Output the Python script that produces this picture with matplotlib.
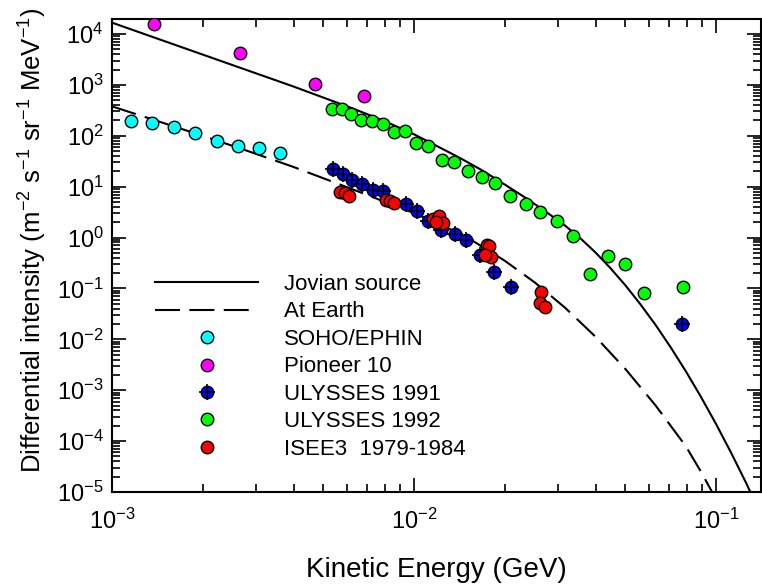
import matplotlib
matplotlib.use("Agg")
import matplotlib.pyplot as plt
from matplotlib.lines import Line2D
from matplotlib.legend_handler import HandlerTuple
from matplotlib.ticker import LogLocator, NullFormatter

# model curves
jov_x = [1.0e-3, 1.995e-3, 3.98e-3, 6.31e-3, 7.943e-3, 1.0e-2, 1.413e-2, 1.679e-2, 2.0e-2,
         2.371e-2, 2.818e-2, 3.162e-2, 3.548e-2, 3.981e-2, 4.467e-2, 5.012e-2, 5.623e-2,
         6.310e-2, 7.079e-2, 7.943e-2, 8.913e-2, 0.1, 0.1122, 0.1259, 0.1318]
jov_y = [1.67e4, 3945, 933, 339, 197, 107, 37.2, 21.0, 10.96,
         5.75, 2.82, 1.72, 0.977, 0.515, 0.252, 0.115, 0.0485,
         0.0191, 6.95e-3, 2.36e-3, 7.41e-4, 2.17e-4, 5.89e-5, 1.49e-5, 8.3e-6]

earth_x = [1.0e-3, 1.413e-3, 1.995e-3, 2.818e-3, 3.981e-3, 6.31e-3, 7.943e-3, 1.0e-2,
           1.259e-2, 1.585e-2, 1.995e-2, 2.512e-2, 3.162e-2, 3.981e-2, 5.012e-2,
           6.31e-2, 7.943e-2, 8.913e-2, 9.772e-2]
earth_y = [378, 195, 100, 50.1, 24.5, 8.71, 5.13, 3.02,
           1.676, 0.822, 0.352, 0.131, 0.0419, 0.01138, 2.61e-3,
           5.0e-4, 7.93e-5, 2.51e-5, 9.3e-6]

# measurements
soho_x = [1.16e-3, 1.36e-3, 1.60e-3, 1.89e-3, 2.22e-3, 2.61e-3, 3.07e-3, 3.61e-3]
soho_y = [191, 180, 148, 112, 78, 62, 58, 45]

pio_x = [1.38e-3, 2.65e-3, 4.70e-3, 6.83e-3]
pio_y = [1.55e4, 4190, 1047, 608]

u91_x = [5.41e-3, 5.82e-3, 6.25e-3, 6.71e-3, 7.33e-3, 7.90e-3, 9.41e-3, 1.026e-2,
         1.113e-2, 1.231e-2, 1.367e-2, 1.487e-2, 1.648e-2, 1.834e-2, 2.095e-2, 7.74e-2]
u91_y = [22.5, 18.0, 13.7, 11.2, 8.6, 8.2, 4.6, 3.34,
         2.12, 1.40, 1.20, 0.91, 0.444, 0.211, 0.109, 0.0197]

u92_x = [5.34e-3, 5.76e-3, 6.17e-3, 6.68e-3, 7.24e-3, 7.88e-3, 8.59e-3, 9.36e-3,
         1.015e-2, 1.11e-2, 1.235e-2, 1.357e-2, 1.506e-2, 1.676e-2, 1.855e-2, 2.084e-2,
         2.344e-2, 2.614e-2, 2.98e-2, 3.37e-2, 3.836e-2, 4.39e-2, 5.01e-2, 5.79e-2, 7.78e-2]
u92_y = [338, 333, 270, 200, 191, 170, 118, 124,
         72, 62, 34, 30, 20, 15.5, 11.8, 6.7,
         4.6, 3.2, 2.1, 1.06, 0.188, 0.43, 0.296, 0.082, 0.108]

isee_x = [5.67e-3, 5.89e-3, 6.08e-3, 8.05e-3, 8.33e-3, 8.60e-3, 1.152e-2, 1.208e-2,
          1.245e-2, 1.186e-2, 1.745e-2, 1.778e-2, 1.792e-2, 1.712e-2, 2.624e-2, 2.614e-2, 2.72e-2]
isee_y = [7.9, 7.5, 6.6, 5.4, 5.3, 4.7, 2.3, 2.6,
          1.9, 2.0, 0.73, 0.675, 0.424, 0.444, 0.0835, 0.0515, 0.0438]

labels = ["Jovian source", "At Earth", "SOHO/EPHIN", "Pioneer 10",
          "ULYSSES 1991", "ULYSSES 1992", "ISEE3  1979-1984"]

plt.rcParams['font.family'] = 'Liberation Sans'
plt.rcParams['mathtext.fontset'] = 'custom'
plt.rcParams['mathtext.rm'] = 'Liberation Sans'
plt.rcParams['mathtext.it'] = 'Liberation Sans:italic'
plt.rcParams['mathtext.bf'] = 'Liberation Sans:bold'

fig = plt.figure(figsize=(7.62, 5.87), dpi=100)
ax = fig.add_axes([112/762, 1-492/587, (761-112)/762, (492-19)/587])

dash = (12, 4.5)
ax.plot(jov_x, jov_y, color='black', lw=1.5, zorder=2)
ax.plot(earth_x, earth_y, color='black', lw=1.5, dashes=dash, zorder=2)

kw = dict(marker='o', ls='none', ms=9, mec='black', mew=1)
ax.plot(soho_x, soho_y, mfc='#00FFFF', zorder=3, **kw)
ax.plot(pio_x, pio_y, mfc='#FF00FF', zorder=3, **kw)
ax.plot(u92_x, u92_y, mfc='#00FF00', zorder=3, **kw)
ax.plot(u91_x, u91_y, mfc='#0000FF', zorder=3, **kw)
ax.plot(u91_x, u91_y, marker='+', ls='none', ms=11, mew=1.2, color='black', zorder=3.5)
ax.plot(isee_x, isee_y, mfc='#FF0000', zorder=4, **kw)

ax.set_xscale('log')
ax.set_yscale('log')
ax.set_xlim(1e-3, 0.1409)
ax.set_ylim(1e-5, 1.97e4)

ax.xaxis.set_major_locator(LogLocator(base=10, numticks=20))
ax.yaxis.set_major_locator(LogLocator(base=10, numticks=20))
ax.xaxis.set_minor_locator(LogLocator(base=10, subs=range(2, 10), numticks=40))
ax.yaxis.set_minor_locator(LogLocator(base=10, subs=range(2, 10), numticks=40))
ax.xaxis.set_minor_formatter(NullFormatter())
ax.yaxis.set_minor_formatter(NullFormatter())

ax.tick_params(which='both', direction='in', top=True, right=True, width=1.2, labelsize=17)
ax.tick_params(which='major', length=10, pad=6)
ax.tick_params(which='minor', length=6)
ax.tick_params(axis='x', which='major', pad=12)
for s in ax.spines.values():
    s.set_linewidth(1.5)

ax.set_xlabel('Kinetic Energy (GeV)', fontsize=20, labelpad=17)
ax.set_ylabel('Differential intensity (m$^{-2}$ s$^{-1}$ sr$^{-1}$ MeV$^{-1}$)', fontsize=18.5)
ax.yaxis.set_label_coords(-0.097, 0.532)

def dot(c):
    return Line2D([], [], marker='o', ls='none', ms=9, mfc=c, mec='black', mew=1)

handles = [Line2D([], [], color='black', lw=1.5),
           Line2D([], [], color='black', lw=1.5, dashes=dash),
           dot('#00FFFF'), dot('#FF00FF'),
           (dot('#0000FF'), Line2D([], [], marker='+', ls='none', ms=11, mew=1.2, color='black')),
           dot('#00FF00'), dot('#FF0000')]
ax.legend(handles, labels, loc='upper left', bbox_to_anchor=(155/762, 1-274/587),
          bbox_transform=fig.transFigure, frameon=False, fontsize=16,
          handlelength=4.64, handletextpad=1.17, labelspacing=0.29,
          borderpad=0, borderaxespad=0,
          handler_map={tuple: HandlerTuple(ndivide=1)})

fig.savefig('out.png', dpi=100)
